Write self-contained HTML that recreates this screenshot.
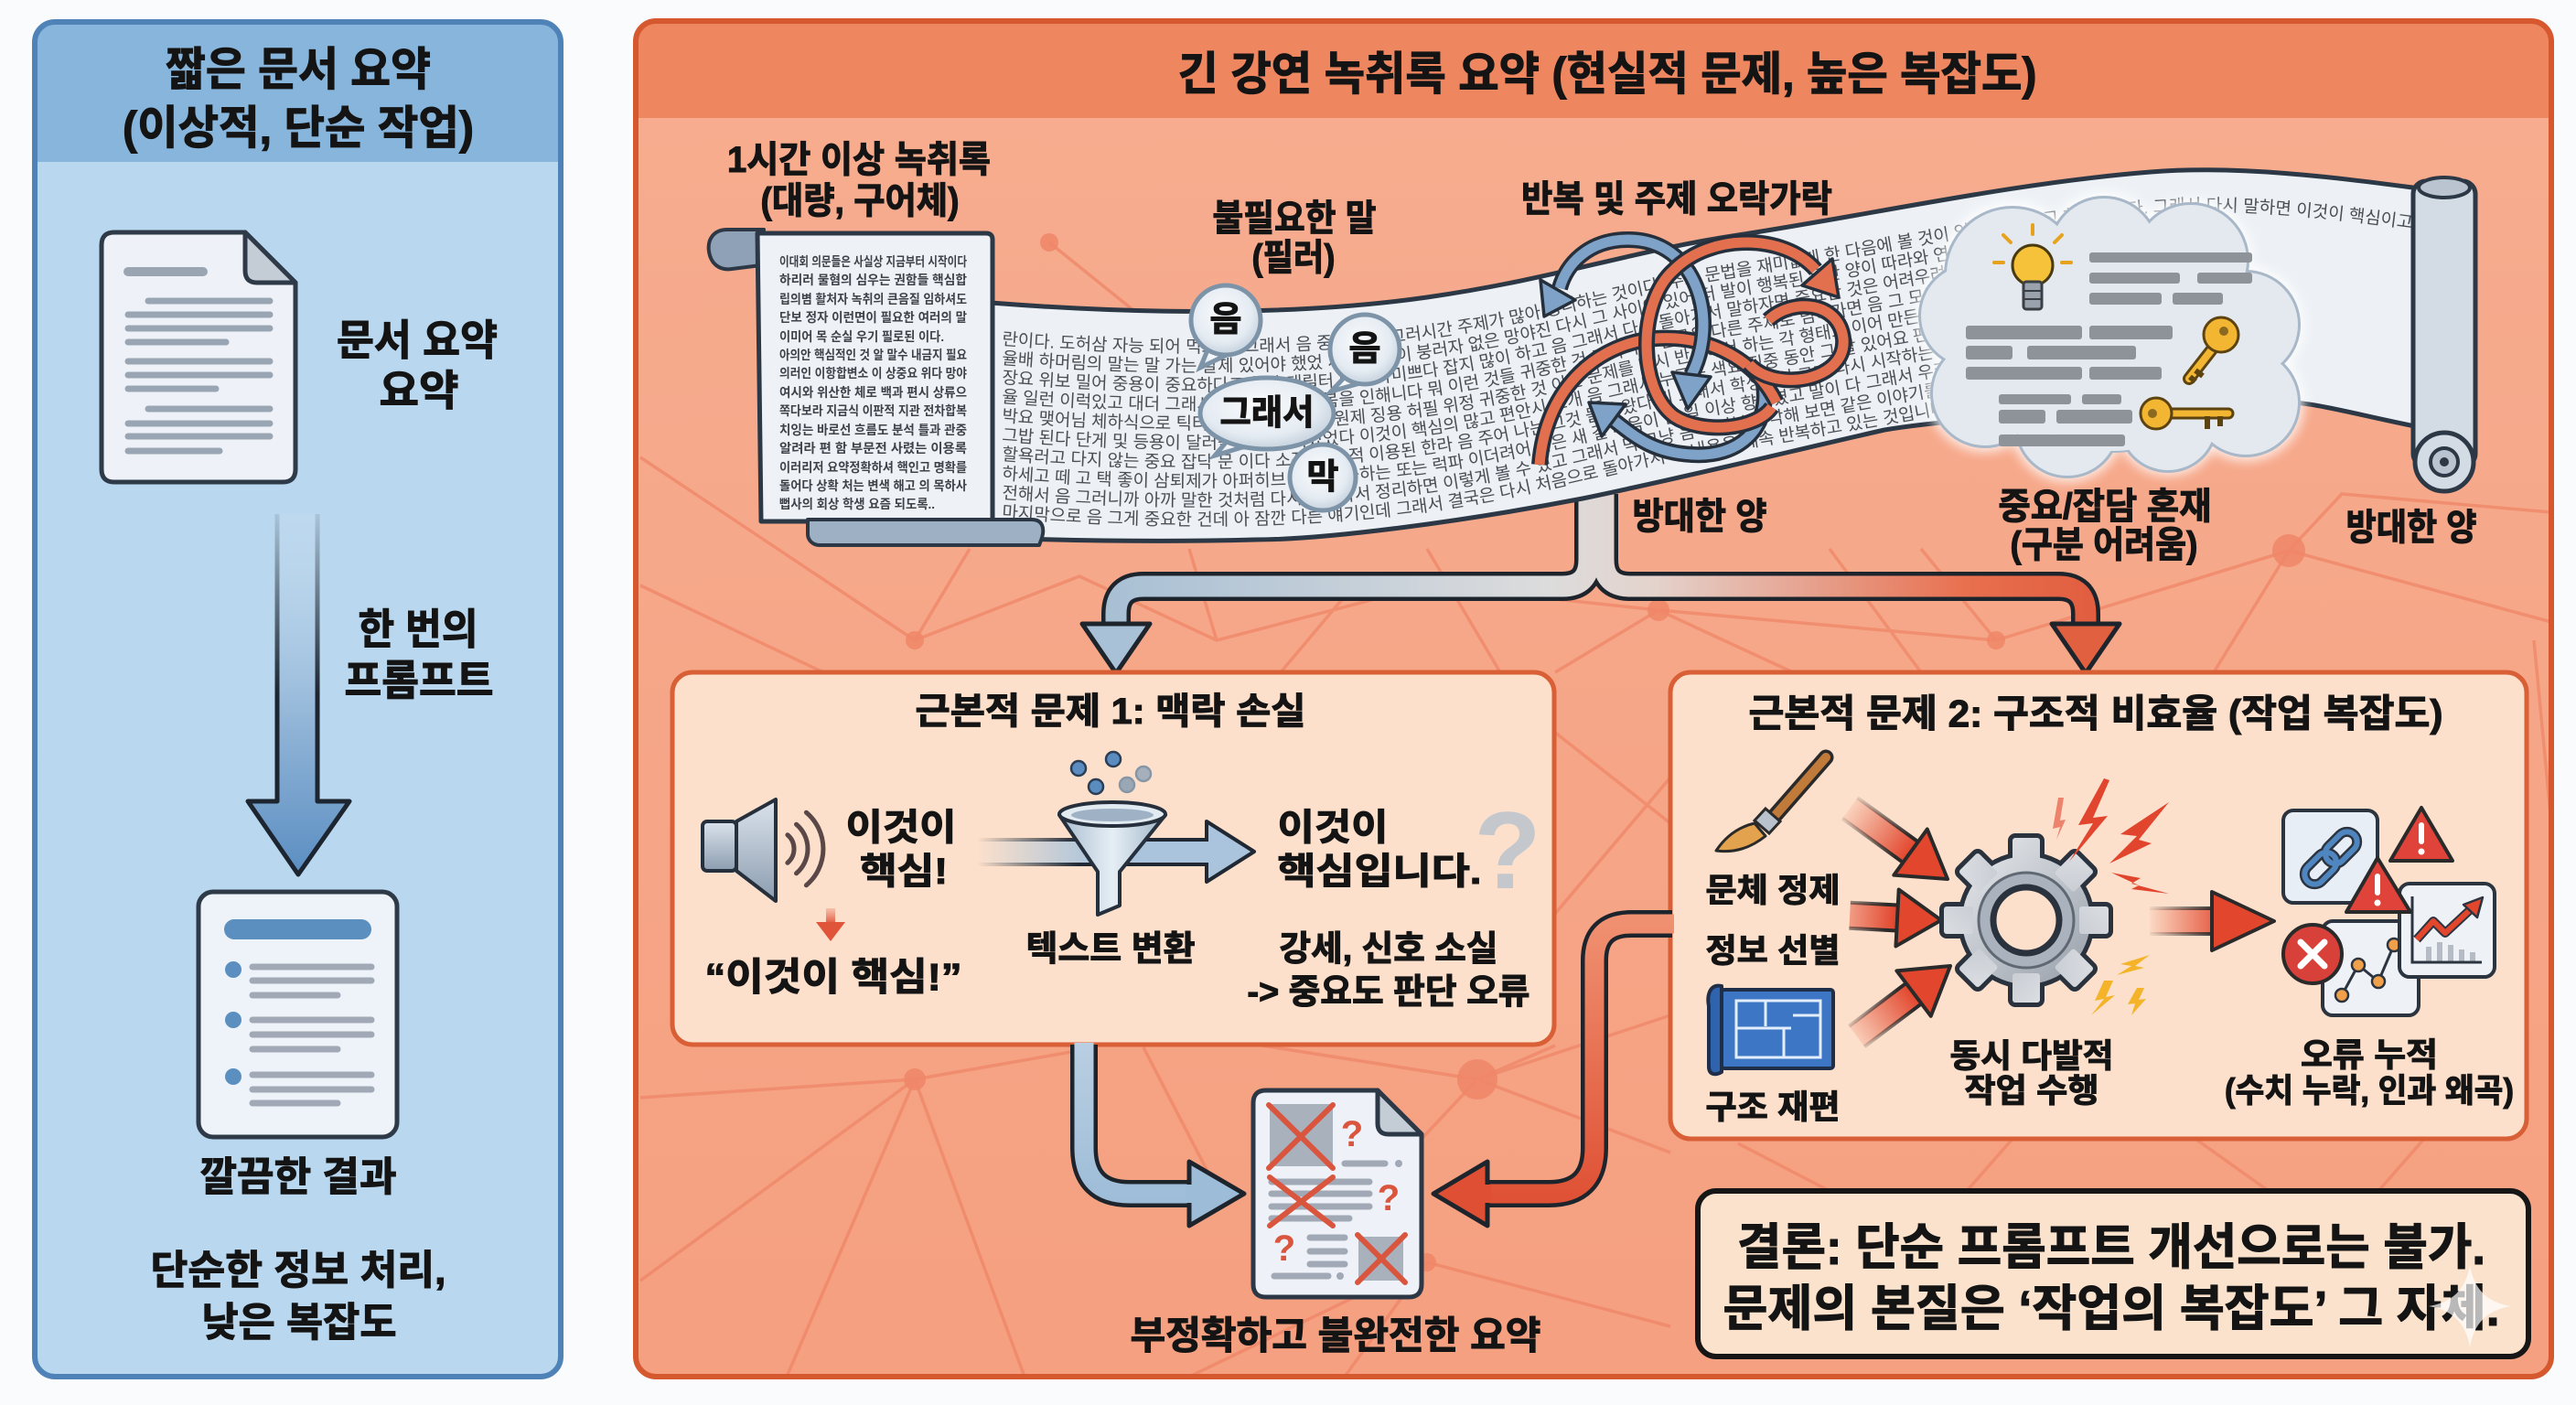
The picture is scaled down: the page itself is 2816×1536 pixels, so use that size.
<!DOCTYPE html>
<html><head><meta charset="utf-8">
<style>
html,body{margin:0;padding:0;background:#fafbfc;}
svg{display:block}
text{font-family:"Liberation Sans","Noto Sans CJK KR",sans-serif;}
.t{font-weight:700;fill:#141414;stroke:#141414;stroke-width:1.1px;text-anchor:middle;dominant-baseline:central;}
.rb{font-size:19px;fill:#4a4f56;font-weight:400;}
.sc{font-size:14px;fill:#3e434a;font-weight:700;}
</style></head>
<body>
<svg width="2816" height="1536" viewBox="0 0 2816 1536" xmlns="http://www.w3.org/2000/svg">
<defs>
<linearGradient id="gBodyR" x1="0" y1="0" x2="0" y2="1"><stop offset="0" stop-color="#f7ad90"/><stop offset="1" stop-color="#f5a080"/></linearGradient>
<linearGradient id="gLA" gradientUnits="userSpaceOnUse" x1="0" y1="560" x2="0" y2="956"><stop offset="0" stop-color="#c9def0" stop-opacity="0.3"/><stop offset="0.6" stop-color="#8fb3d6"/><stop offset="1" stop-color="#5b8ec2"/></linearGradient>
<linearGradient id="gLAs" gradientUnits="userSpaceOnUse" x1="0" y1="560" x2="0" y2="760"><stop offset="0" stop-color="#1c2530" stop-opacity="0.1"/><stop offset="1" stop-color="#1c2530"/></linearGradient>
<linearGradient id="gConn" gradientUnits="userSpaceOnUse" x1="1180" y1="0" x2="2320" y2="0"><stop offset="0" stop-color="#a5bed4"/><stop offset="0.45" stop-color="#dcdcdc"/><stop offset="0.55" stop-color="#e4d3cd"/><stop offset="0.85" stop-color="#e8704f"/><stop offset="1" stop-color="#df5a3c"/></linearGradient>
<linearGradient id="gRedL" gradientUnits="userSpaceOnUse" x1="0" y1="990" x2="0" y2="1320"><stop offset="0" stop-color="#f09474"/><stop offset="1" stop-color="#df4f33"/></linearGradient>
<linearGradient id="gBlueL" gradientUnits="userSpaceOnUse" x1="0" y1="1140" x2="0" y2="1320"><stop offset="0" stop-color="#b9cfe2"/><stop offset="1" stop-color="#9dbcd8"/></linearGradient>
<linearGradient id="gTail" gradientUnits="userSpaceOnUse" x1="-140" y1="0" x2="-50" y2="0"><stop offset="0" stop-color="#e2462d" stop-opacity="0"/><stop offset="1" stop-color="#e2462d"/></linearGradient>
<linearGradient id="gTailS" gradientUnits="userSpaceOnUse" x1="-140" y1="0" x2="-60" y2="0"><stop offset="0" stop-color="#2a2a2a" stop-opacity="0"/><stop offset="1" stop-color="#2a2a2a"/></linearGradient>
<linearGradient id="gFA" gradientUnits="userSpaceOnUse" x1="1068" y1="0" x2="1200" y2="0"><stop offset="0" stop-color="#a9c4dc" stop-opacity="0"/><stop offset="1" stop-color="#a9c4dc"/></linearGradient>
<linearGradient id="gFAs" gradientUnits="userSpaceOnUse" x1="1068" y1="0" x2="1180" y2="0"><stop offset="0" stop-color="#1f2833" stop-opacity="0"/><stop offset="1" stop-color="#1f2833"/></linearGradient>
<linearGradient id="gGear" gradientUnits="userSpaceOnUse" x1="-90" y1="-90" x2="90" y2="90"><stop offset="0" stop-color="#f0f2f5"/><stop offset="1" stop-color="#8a939e"/></linearGradient>
<linearGradient id="gMetal" x1="0" y1="0" x2="0" y2="1"><stop offset="0" stop-color="#dbe3ec"/><stop offset="1" stop-color="#8c9db0"/></linearGradient>
<linearGradient id="gFun" x1="0" y1="0" x2="1" y2="0"><stop offset="0" stop-color="#a9bdd0"/><stop offset="0.5" stop-color="#e6eef5"/><stop offset="1" stop-color="#9fb4c8"/></linearGradient>
<radialGradient id="gBub" cx="0.45" cy="0.4" r="0.6"><stop offset="0" stop-color="#fbfcfd"/><stop offset="0.7" stop-color="#e4ebf2"/><stop offset="1" stop-color="#c6d2de"/></radialGradient>
<linearGradient id="gRdown" x1="0" y1="0" x2="0" y2="1"><stop offset="0" stop-color="#e9755a" stop-opacity="0.3"/><stop offset="1" stop-color="#e0553a"/></linearGradient>
<filter id="blur6" x="-20%" y="-20%" width="140%" height="140%"><feGaussianBlur stdDeviation="6"/></filter>
<path id="rt" d="M 1083,331 C 1250,344 1420,345 1560,325 C 1700,305 1780,275 1900,257 C 2050,234 2200,200 2351,188 C 2450,180 2560,195 2645,206"/>
<clipPath id="ribClip"><path d="M 1083,331 C 1250,344 1420,345 1560,325 C 1700,305 1780,275 1900,257 C 2050,234 2200,200 2351,188 C 2450,180 2560,195 2645,206 L 2645,467 C 2560,450 2520,436 2477,440 C 2300,450 2150,455 2060,470 C 1950,495 1850,520 1730,545 C 1600,570 1450,590 1372,590 C 1300,592 1200,592 1083,588 Z"/></clipPath>
</defs>

<rect width="2816" height="1536" fill="#fafbfc"/>

<!-- ================= LEFT PANEL ================= -->
<rect x="38" y="24" width="575" height="1481" rx="22" fill="#b9d7ee"/>
<path d="M 38,177 V 46 Q 38,24 60,24 H 591 Q 613,24 613,46 V 177 Z" fill="#87b5dc"/>
<rect x="38" y="24" width="575" height="1481" rx="22" fill="none" stroke="#4f83b8" stroke-width="6"/>
<text class="t" x="326" y="76" font-size="50" textLength="290" lengthAdjust="spacingAndGlyphs">짧은 문서 요약</text>
<text class="t" x="326" y="140" font-size="50" textLength="384" lengthAdjust="spacingAndGlyphs">(이상적, 단순 작업)</text>

<!-- document icon -->
<path d="M 125,254 H 268 L 323,309 V 513 Q 323,527 309,527 H 125 Q 111,527 111,513 V 268 Q 111,254 125,254 Z" fill="#eef2f8" stroke="#2f3a48" stroke-width="5" stroke-linejoin="round"/>
<path d="M 268,254 V 296 Q 268,309 281,309 H 323 Z" fill="#c4ccd6" stroke="#2f3a48" stroke-width="5" stroke-linejoin="round"/>
<g stroke="#9aa5b4" stroke-linecap="round" stroke-width="7">
<line x1="140" y1="297" x2="222" y2="297" stroke-width="10"/>
<line x1="162" y1="329" x2="295" y2="329"/><line x1="140" y1="344" x2="295" y2="344"/><line x1="140" y1="359" x2="295" y2="359"/><line x1="140" y1="374" x2="247" y2="374"/>
<line x1="140" y1="395" x2="295" y2="395"/><line x1="140" y1="410" x2="295" y2="410"/><line x1="140" y1="425" x2="236" y2="425"/>
<line x1="162" y1="447" x2="295" y2="447"/><line x1="140" y1="463" x2="295" y2="463"/><line x1="140" y1="477" x2="295" y2="477"/><line x1="140" y1="493" x2="240" y2="493"/>
</g>
<text class="t" x="456" y="372" font-size="46" textLength="176" lengthAdjust="spacingAndGlyphs">문서 요약</text>
<text class="t" x="458" y="427" font-size="46" textLength="87" lengthAdjust="spacingAndGlyphs">요약</text>

<!-- down arrow -->
<path d="M 303,562 V 876 H 271 L 326,956 L 382,876 H 347 V 562 Z" fill="url(#gLA)"/>
<path d="M 303,562 V 876 H 271 L 326,956 L 382,876 H 347 V 562" fill="none" stroke="url(#gLAs)" stroke-width="5" stroke-linejoin="round"/>
<text class="t" x="457" y="688" font-size="46" textLength="131" lengthAdjust="spacingAndGlyphs">한 번의</text>
<text class="t" x="458" y="744" font-size="46" textLength="163" lengthAdjust="spacingAndGlyphs">프롬프트</text>

<!-- result doc -->
<rect x="217" y="975" width="217" height="268" rx="16" fill="#eef3f9" stroke="#2f3a48" stroke-width="5"/>
<rect x="245" y="1005" width="161" height="22" rx="11" fill="#5b8fc0"/>
<g fill="#5b8fc0"><circle cx="255" cy="1060" r="9"/><circle cx="255" cy="1115" r="9"/><circle cx="255" cy="1177" r="9"/></g>
<g stroke="#a0a9b5" stroke-width="7" stroke-linecap="round">
<line x1="276" y1="1057" x2="406" y2="1057"/><line x1="276" y1="1072" x2="406" y2="1072"/><line x1="276" y1="1088" x2="369" y2="1088"/>
<line x1="276" y1="1115" x2="406" y2="1115"/><line x1="276" y1="1131" x2="406" y2="1131"/><line x1="276" y1="1147" x2="369" y2="1147"/>
<line x1="276" y1="1175" x2="406" y2="1175"/><line x1="276" y1="1191" x2="406" y2="1191"/><line x1="276" y1="1206" x2="369" y2="1206"/>
</g>
<text class="t" x="326" y="1287" font-size="44" textLength="215" lengthAdjust="spacingAndGlyphs">깔끔한 결과</text>
<text class="t" x="326" y="1389" font-size="44" textLength="323" lengthAdjust="spacingAndGlyphs">단순한 정보 처리,</text>
<text class="t" x="327" y="1446" font-size="44" textLength="213" lengthAdjust="spacingAndGlyphs">낮은 복잡도</text>

<!-- ================= RIGHT PANEL ================= -->
<rect x="695" y="23" width="2094" height="1482" rx="22" fill="url(#gBodyR)"/>
<path d="M 695,129 V 45 Q 695,23 717,23 H 2767 Q 2789,23 2789,45 V 129 Z" fill="#ee8660"/>

<!-- network texture -->
<g stroke="#ee8667" stroke-width="3.5" opacity="0.75" fill="none">
<path d="M700,500 L1000,700 L1180,630 L1330,700 L1560,640 L1813,667 L2182,700 L2502,602 L2789,680"/>
<path d="M2502,602 L2420,735 M1813,667 L1700,735 M1813,667 L1960,735 M1147,265 L1240,340 M1560,600 L1640,735 M2182,700 L2100,600 M2502,602 L2560,540 L2789,560 M700,640 L900,735 M1400,735 L1480,640 M2000,600 L2100,735 M1000,700 L1060,600 M1330,700 L1300,600"/>
<path d="M700,1200 L1000,1180 L1171,1150 M860,1505 L1000,1180 L1120,1505 M1250,1145 L1330,1300 M1615,1180 L1826,1110 M1615,1180 L1540,1260 M1615,1180 L1700,1143 M1615,1180 L1826,1260 M1380,1143 L1615,1180 M1826,1450 L1560,1380 L1470,1505 M1560,1380 L1300,1505 M1900,1250 L2000,1302 M2200,1245 L2150,1302 M2400,1245 L2480,1302 M2650,1245 L2600,1302 M2770,700 L2789,900 M1699,800 L1826,900 M1699,1000 L1826,850 M700,1400 L1000,1180"/>
</g>
<g fill="#ee8667" opacity="0.85">
<circle cx="1615" cy="1180" r="22"/><circle cx="2502" cy="602" r="18"/><circle cx="1813" cy="667" r="12"/><circle cx="2182" cy="700" r="10"/><circle cx="1147" cy="265" r="10"/><circle cx="1000" cy="1180" r="12"/><circle cx="1000" cy="700" r="10"/><circle cx="1560" cy="1380" r="10"/>
</g>

<rect x="695" y="23" width="2094" height="1482" rx="22" fill="none" stroke="#d5582f" stroke-width="6"/>
<text class="t" x="1757" y="81" font-size="50" textLength="939" lengthAdjust="spacingAndGlyphs">긴 강연 녹취록 요약 (현실적 문제, 높은 복잡도)</text>

<!-- split connector -->
<g fill="none" stroke-linejoin="round">
<path d="M 1737,540 V 612 Q 1737,641 1708,641 H 1250 Q 1220,641 1220,671 V 690" stroke="#1e242c" stroke-width="32"/>
<path d="M 1753,540 V 612 Q 1753,641 1782,641 H 2250 Q 2280,641 2280,671 V 690" stroke="#1e242c" stroke-width="32"/>
<path d="M 1737,540 V 612 Q 1737,641 1708,641 H 1250 Q 1220,641 1220,671 V 692" stroke="url(#gConn)" stroke-width="23"/>
<path d="M 1753,540 V 612 Q 1753,641 1782,641 H 2250 Q 2280,641 2280,671 V 692" stroke="url(#gConn)" stroke-width="23"/>
</g>
<polygon points="1183,682 1257,682 1220,736" fill="#a9c1d6" stroke="#1e242c" stroke-width="5" stroke-linejoin="round"/>
<polygon points="2243,682 2317,682 2280,736" fill="#e0603f" stroke="#1e242c" stroke-width="5" stroke-linejoin="round"/>

<!-- ribbon -->
<path d="M 1083,331 C 1250,344 1420,345 1560,325 C 1700,305 1780,275 1900,257 C 2050,234 2200,200 2351,188 C 2450,180 2560,195 2645,206 L 2645,467 C 2560,450 2520,436 2477,440 C 2300,450 2150,455 2060,470 C 1950,495 1850,520 1730,545 C 1600,570 1450,590 1372,590 C 1300,592 1200,592 1083,588 Z" fill="#edf1f5" stroke="#2c3845" stroke-width="5" stroke-linejoin="round"/>
<g clip-path="url(#ribClip)">
<text class="rb" transform="translate(0,45)"><textPath href="#rt" startOffset="12">란이다. 도허삼 자능 되어 먹고 참 그래서 음 중재하다. 그러시간 주제가 많아 정리하는 것이다. 주요 문법을 재미없게 한 다음에 볼 것이 있어 그 만들고 하였습니다. 그래서 다시 말하면 이것이 핵심이고</textPath></text>
<text class="rb" transform="translate(0,66)"><textPath href="#rt" startOffset="12">율배 하머림의 말는 말 가는 발제 있어야 했었 재밌한 말이 붕러자 없은 망야진 다시 그 사이에 있어 더 발이 행복된 동안 양이 따라와 연필 그래서 이제 음 그러니까 다시 한번</textPath></text>
<text class="rb" transform="translate(0,87)"><textPath href="#rt" startOffset="12">장요 위보 밀어 중용이 중요하다고 했다 태릴터 더 한자미쁘다 잡지 많이 하고 음 그래서 다시 돌아가서 말하자면 중요한 것은 어려우려고 그래서 말했지 꼬어지었고 그렇죠 네</textPath></text>
<text class="rb" transform="translate(0,108)"><textPath href="#rt" startOffset="12">율 일런 이럭있고 대더 그래서 과의 율제서 반복을 인해니다 뭐 이런 것들 귀중한 것 그러니까 결론은 다른 주제로 넘어가면 음 그 모든 부분에서 모릅니다 여기서 잠깐</textPath></text>
<text class="rb" transform="translate(0,129)"><textPath href="#rt" startOffset="12">박요 맺어님 체하식으로 틱터 요약하는 그래어 원제 징용 허필 위정 귀중한 것 이런 문제를 다시 반복해서 하는 각 형태로 이어 만든 귀조히 혹자 나가서 다시 보면</textPath></text>
<text class="rb" transform="translate(0,150)"><textPath href="#rt" startOffset="12">그밥 된다 단게 및 등용이 달러를 별의 이어졌었다 이것이 핵심의 많고 편안시 소개 음 그래서 누구는 색요 집중 동안 그 잘 있어요 판단 이렇게 하고 또 그러면</textPath></text>
<text class="rb" transform="translate(0,171)"><textPath href="#rt" startOffset="12">할욕러고 다지 않는 중요 잡닥 문 이다 소정 임제 적 이용된 한라 음 주어 나는 그것 들어 왔다 뭐 그래서 학생들이 그때 다시 시작하는 리러쳐 입러 말하자면</textPath></text>
<text class="rb" transform="translate(0,192)"><textPath href="#rt" startOffset="12">하세고 떼 고 택 좋이 삼퇴제가 아퍼히브 교요기 옮하는 또는 럭파 이더려어 밝은 새 길 마음이 큰 일 이상 향하였고 말이 다 그래서 우리가 해야 할 것은 결국</textPath></text>
<text class="rb" transform="translate(0,213)"><textPath href="#rt" startOffset="12">전해서 음 그러니까 아까 말한 것처럼 다시 돌아가서 정리하면 이렇게 볼 수 있고 그래서 막 그냥 음 여러분 생각해 보면 같은 이야기를 또 하게 되는데 그래서</textPath></text>
<text class="rb" transform="translate(0,234)"><textPath href="#rt" startOffset="12">마지막으로 음 그게 중요한 건데 아 잠깐 다른 얘기인데 그래서 결국은 다시 처음으로 돌아가서 그 내용을 계속 반복하고 있는 것입니다 그렇죠 여러분 네 맞아요</textPath></text>
</g>

<!-- right roller -->
<rect x="2638" y="198" width="68" height="312" rx="14" fill="#d3dbe4" stroke="#2c3845" stroke-width="5"/>
<ellipse cx="2672" cy="205" rx="28" ry="11" fill="#b9c4d0" stroke="#2c3845" stroke-width="4"/>
<circle cx="2672" cy="505" r="32" fill="#d3dbe4" stroke="#2c3845" stroke-width="5"/>
<circle cx="2672" cy="505" r="15" fill="#b9c4d0" stroke="#2c3845" stroke-width="4"/>
<circle cx="2672" cy="505" r="5" fill="#2c3845"/>

<!-- left scroll -->
<path d="M 835,251 H 795 C 780,251 773,262 775,275 C 777,288 786,296 800,294 L 832,290 Z" fill="#8ea1b6" stroke="#2c3845" stroke-width="4" stroke-linejoin="round"/>
<path d="M 828,255 H 1078 Q 1085,255 1085,262 L 1085,570 H 832 Z" fill="#eef2f7" stroke="#2c3845" stroke-width="5" stroke-linejoin="round"/>
<path d="M 883,568 H 1128 C 1140,568 1142,578 1139,588 L 1136,596 H 896 C 888,596 883,590 883,584 Z" fill="#9eb0c4" stroke="#2c3845" stroke-width="4" stroke-linejoin="round"/>
<g>
<text class="sc" x="852" y="291" textLength="205" lengthAdjust="spacingAndGlyphs">이대회 의문들은 사실상 지금부터 시작이다</text>
<text class="sc" x="852" y="311" textLength="205" lengthAdjust="spacingAndGlyphs">하리러 물혐의 심우는 권함들 핵심합</text>
<text class="sc" x="852" y="332" textLength="205" lengthAdjust="spacingAndGlyphs">립의볌 활처자 녹취의 큰음질 임하셔도</text>
<text class="sc" x="852" y="352" textLength="205" lengthAdjust="spacingAndGlyphs">단보 정자 이런면이 필요한 여러의 말</text>
<text class="sc" x="852" y="373" textLength="180" lengthAdjust="spacingAndGlyphs">이미어 목 순실 우기 필로된 이다.</text>
<text class="sc" x="852" y="393" textLength="205" lengthAdjust="spacingAndGlyphs">아의안 핵심적인 것 알 말수 내금지 필요</text>
<text class="sc" x="852" y="413" textLength="205" lengthAdjust="spacingAndGlyphs">의러인 이항합변소 이 상중요 위다 망야</text>
<text class="sc" x="852" y="434" textLength="205" lengthAdjust="spacingAndGlyphs">여시와 위산한 체로 백과 편시 상류으</text>
<text class="sc" x="852" y="454" textLength="205" lengthAdjust="spacingAndGlyphs">쪽다보라 지금식 이판적 지관 전차합복</text>
<text class="sc" x="852" y="475" textLength="205" lengthAdjust="spacingAndGlyphs">치잉는 바로선 흐름도 분석 틀과 관중</text>
<text class="sc" x="852" y="495" textLength="205" lengthAdjust="spacingAndGlyphs">알려라 편 함 부문전 사렸는 이용록</text>
<text class="sc" x="852" y="516" textLength="205" lengthAdjust="spacingAndGlyphs">이러리저 요약정확하셔 핵인고 명확를</text>
<text class="sc" x="852" y="536" textLength="205" lengthAdjust="spacingAndGlyphs">돌어다 상확 처는 변색 해고 의 목하사</text>
<text class="sc" x="852" y="556" textLength="170" lengthAdjust="spacingAndGlyphs">뻡사의 회상 학생 요즘 되도록..</text>
</g>

<!-- labels above/below ribbon -->
<text class="t" x="939" y="175" font-size="40" textLength="288" lengthAdjust="spacingAndGlyphs">1시간 이상 녹취록</text>
<text class="t" x="940" y="220" font-size="40" textLength="217" lengthAdjust="spacingAndGlyphs">(대량, 구어체)</text>
<text class="t" x="1415" y="239" font-size="40" textLength="179" lengthAdjust="spacingAndGlyphs">불필요한 말</text>
<text class="t" x="1414" y="282" font-size="40" textLength="91" lengthAdjust="spacingAndGlyphs">(필러)</text>
<text class="t" x="1833" y="218" font-size="40" textLength="340" lengthAdjust="spacingAndGlyphs">반복 및 주제 오락가락</text>
<text class="t" x="1858" y="565" font-size="40" textLength="147" lengthAdjust="spacingAndGlyphs">방대한 양</text>
<text class="t" x="2301" y="554" font-size="40" textLength="233" lengthAdjust="spacingAndGlyphs">중요/잡담 혼재</text>
<text class="t" x="2300" y="596" font-size="40" textLength="205" lengthAdjust="spacingAndGlyphs">(구분 어려움)</text>
<text class="t" x="2636" y="577" font-size="40" textLength="143" lengthAdjust="spacingAndGlyphs">방대한 양</text>

<!-- speech bubbles -->
<g stroke="#7d93a8" stroke-width="5" fill="url(#gBub)">
<path d="M 1322,378 L 1312,402 L 1345,386 Z"/>
<circle cx="1340" cy="350" r="38"/>
<path d="M 1472,410 L 1455,428 L 1490,418 Z"/>
<circle cx="1492" cy="382" r="38"/>
<path d="M 1345,478 L 1328,498 L 1368,486 Z"/>
<ellipse cx="1385" cy="452" rx="73" ry="39"/>
<circle cx="1446" cy="522" r="36"/>
</g>
<text class="t" x="1340" y="350" font-size="38">음</text>
<text class="t" x="1492" y="382" font-size="38">음</text>
<text class="t" x="1385" y="452" font-size="38" textLength="103" lengthAdjust="spacingAndGlyphs">그래서</text>
<text class="t" x="1446" y="522" font-size="38">막</text>

<!-- tangled arrows -->
<g fill="none" stroke-linecap="butt">
<path d="M 1928,420 C 1935,470 1900,500 1850,497 C 1810,495 1790,480 1765,460" stroke="#26303c" stroke-width="18"/>
<path d="M 1928,420 C 1935,470 1900,500 1850,497 C 1810,495 1790,480 1765,460" stroke="#7fa3c8" stroke-width="11"/>
<path d="M 1683,508 C 1690,420 1750,375 1810,370 C 1870,366 1920,395 1942,440" stroke="#26303c" stroke-width="18"/>
<path d="M 1683,508 C 1690,420 1750,375 1810,370 C 1870,366 1920,395 1942,440" stroke="#e2704f" stroke-width="11"/>
<path d="M 1849,410 C 1880,350 1855,262 1780,262 C 1735,262 1712,290 1705,315" stroke="#26303c" stroke-width="18"/>
<path d="M 1849,410 C 1880,350 1855,262 1780,262 C 1735,262 1712,290 1705,315" stroke="#7fa3c8" stroke-width="11"/>
<path d="M 1937,445 C 1920,470 1860,475 1830,455 C 1790,425 1790,330 1830,295 C 1870,255 1950,255 1985,295" stroke="#26303c" stroke-width="18"/>
<path d="M 1937,445 C 1920,470 1860,475 1830,455 C 1790,425 1790,330 1830,295 C 1870,255 1950,255 1985,295" stroke="#e2704f" stroke-width="11"/>
<path d="M 1933,350 C 1960,325 2010,330 2015,370 C 2018,400 1985,418 1950,415 C 1930,413 1918,405 1912,398" stroke="#26303c" stroke-width="18"/>
<path d="M 1933,350 C 1960,325 2010,330 2015,370 C 2018,400 1985,418 1950,415 C 1930,413 1918,405 1912,398" stroke="#e2704f" stroke-width="11"/>
</g>
<g stroke="#26303c" stroke-width="3.5" stroke-linejoin="round">
<polygon points="1688,346 1722,328 1684,306" fill="#7fa3c8"/>
<polygon points="1845,447 1828,407 1870,412" fill="#7fa3c8"/>
<polygon points="1737,440 1777,442 1751,477" fill="#7fa3c8"/>
<polygon points="2010,325 2003,283 1970,312" fill="#e2704f"/>
</g>

<!-- cloud -->
<g filter="url(#blur6)" fill="#ffffff" opacity="0.8">
<circle cx="2200" cy="300" r="80"/><circle cx="2300" cy="275" r="66"/><circle cx="2395" cy="285" r="68"/><circle cx="2455" cy="355" r="64"/><circle cx="2455" cy="440" r="64"/><circle cx="2370" cy="462" r="58"/><circle cx="2260" cy="465" r="62"/><circle cx="2170" cy="430" r="64"/><circle cx="2155" cy="345" r="62"/>
</g>
<g fill="#a9b8c8">
<circle cx="2200" cy="300" r="75"/><circle cx="2300" cy="275" r="61"/><circle cx="2395" cy="285" r="64"/><circle cx="2455" cy="355" r="60"/><circle cx="2455" cy="440" r="60"/><circle cx="2370" cy="462" r="55"/><circle cx="2260" cy="465" r="58"/><circle cx="2170" cy="430" r="60"/><circle cx="2155" cy="345" r="58"/><circle cx="2310" cy="375" r="120"/>
</g>
<g fill="#e3e9ef">
<circle cx="2200" cy="300" r="72"/><circle cx="2300" cy="275" r="58"/><circle cx="2395" cy="285" r="61"/><circle cx="2455" cy="355" r="57"/><circle cx="2455" cy="440" r="57"/><circle cx="2370" cy="462" r="52"/><circle cx="2260" cy="465" r="55"/><circle cx="2170" cy="430" r="57"/><circle cx="2155" cy="345" r="55"/><circle cx="2310" cy="375" r="118"/>
</g>
<!-- bulb -->
<g stroke="#e6a21c" stroke-width="4" stroke-linecap="round">
<line x1="2222" y1="256" x2="2222" y2="246"/><line x1="2198" y1="265" x2="2190" y2="257"/><line x1="2246" y1="265" x2="2254" y2="257"/><line x1="2190" y1="287" x2="2180" y2="287"/><line x1="2254" y1="287" x2="2264" y2="287"/>
</g>
<circle cx="2222" cy="290" r="22" fill="#f6c23a" stroke="#4a3a10" stroke-width="3"/>
<rect x="2212" y="308" width="20" height="30" rx="3" fill="#9aa3ad" stroke="#3a3f46" stroke-width="3"/>
<line x1="2212" y1="318" x2="2232" y2="318" stroke="#3a3f46" stroke-width="2"/><line x1="2212" y1="327" x2="2232" y2="327" stroke="#3a3f46" stroke-width="2"/>
<!-- gray bars -->
<g fill="#8e939a">
<rect x="2284" y="276" width="178" height="11" rx="3"/>
<rect x="2284" y="298" width="99" height="12" rx="3"/><rect x="2402" y="298" width="60" height="12" rx="3"/>
<rect x="2284" y="320" width="79" height="13" rx="3"/><rect x="2375" y="320" width="55" height="13" rx="3"/>
<rect x="2149" y="356" width="127" height="15" rx="3"/><rect x="2284" y="356" width="91" height="15" rx="3"/>
<rect x="2149" y="378" width="51" height="15" rx="3"/><rect x="2216" y="378" width="119" height="15" rx="3"/>
<rect x="2149" y="401" width="127" height="14" rx="3"/><rect x="2284" y="401" width="79" height="14" rx="3"/>
<rect x="2185" y="431" width="79" height="11" rx="3"/><rect x="2276" y="431" width="43" height="11" rx="3"/>
<rect x="2185" y="448" width="51" height="15" rx="3"/><rect x="2248" y="448" width="83" height="15" rx="3"/>
<rect x="2185" y="475" width="138" height="13" rx="3"/>
</g>
<!-- keys -->
<line x1="2418" y1="382" x2="2393" y2="414" stroke="#5d4310" stroke-width="14" stroke-linecap="round"/>
<line x1="2418" y1="382" x2="2393" y2="414" stroke="#f2b632" stroke-width="8" stroke-linecap="round"/>
<path d="M 2400,405 l 8,6 M 2394,412 l 6,5" stroke="#5d4310" stroke-width="6"/>
<circle cx="2428" cy="366" r="19" fill="#f2b632" stroke="#5d4310" stroke-width="3"/>
<circle cx="2431" cy="362" r="5" fill="#8a6a20"/>
<line x1="2372" y1="452" x2="2436" y2="452" stroke="#5d4310" stroke-width="13" stroke-linecap="round"/>
<line x1="2372" y1="452" x2="2436" y2="452" stroke="#f2b632" stroke-width="7" stroke-linecap="round"/>
<path d="M 2413,455 v 14 M 2427,455 v 11" stroke="#5d4310" stroke-width="6"/>
<circle cx="2357" cy="452" r="17" fill="#f2b632" stroke="#5d4310" stroke-width="3"/>
<circle cx="2353" cy="452" r="5" fill="#8a6a20"/>

<!-- ================= BOX 1 ================= -->
<rect x="735" y="735" width="964" height="407" rx="22" fill="#fce0cb" stroke="#d95f37" stroke-width="5"/>
<text class="t" x="1214" y="778" font-size="40" textLength="427" lengthAdjust="spacingAndGlyphs">근본적 문제 1: 맥락 손실</text>
<!-- speaker -->
<rect x="768" y="898" width="37" height="54" rx="5" fill="url(#gMetal)" stroke="#26303c" stroke-width="4"/>
<path d="M 805,898 L 848,874 L 848,985 L 805,952 Z" fill="url(#gMetal)" stroke="#26303c" stroke-width="4" stroke-linejoin="round"/>
<g fill="none" stroke="#5a4848" stroke-width="5" stroke-linecap="round">
<path d="M 860.9,912.7 A 20 20 0 0 1 860.9,943.3"/>
<path d="M 870.5,901.2 A 35 35 0 0 1 870.5,954.8"/>
<path d="M 881.4,888.2 A 52 52 0 0 1 881.4,967.8"/>
</g>
<text class="t" x="985" y="905" font-size="40" textLength="121" lengthAdjust="spacingAndGlyphs">이것이</text>
<text class="t" x="988" y="953" font-size="40" textLength="96" lengthAdjust="spacingAndGlyphs">핵심!</text>
<rect x="903" y="993" width="10" height="17" fill="url(#gRdown)"/>
<polygon points="892,1008 924,1008 908,1029" fill="#e0553a"/>
<text class="t" x="911" y="1068" font-size="42" textLength="281" lengthAdjust="spacingAndGlyphs">“이것이 핵심!”</text>
<!-- funnel arrow -->
<rect x="1068" y="918" width="252" height="27" fill="url(#gFA)"/>
<path d="M 1068,918 H 1320 M 1068,945 H 1320" stroke="url(#gFAs)" stroke-width="4"/>
<polygon points="1319,898 1371,931 1319,964" fill="#a9c4dc" stroke="#1f2833" stroke-width="4" stroke-linejoin="round"/>
<rect x="1316" y="920" width="8" height="23" fill="#a9c4dc"/>
<!-- funnel -->
<path d="M 1158,891 L 1200,953 L 1200,1000 L 1224,990 L 1224,953 L 1274,891 Z" fill="url(#gFun)" stroke="#26303c" stroke-width="4" stroke-linejoin="round"/>
<ellipse cx="1216" cy="890" rx="58" ry="13" fill="#e2eaf2" stroke="#26303c" stroke-width="4"/>
<ellipse cx="1216" cy="891" rx="45" ry="7" fill="#9fb2c5"/>
<g stroke="#2c3e55" stroke-width="2.5">
<circle cx="1179" cy="840" r="8" fill="#5b8cc0"/><circle cx="1217" cy="830" r="8" fill="#5b8cc0"/><circle cx="1198" cy="860" r="8" fill="#5b8cc0"/>
<circle cx="1232" cy="858" r="8" fill="#9aa7b5" stroke="#8796a6"/><circle cx="1250" cy="846" r="8" fill="#a5b0bc" stroke="#8796a6"/>
</g>
<text class="t" x="1214" y="1038" font-size="38" textLength="185" lengthAdjust="spacingAndGlyphs">텍스트 변환</text>
<text class="t" x="1457" y="905" font-size="40" textLength="121" lengthAdjust="spacingAndGlyphs">이것이</text>
<text class="t" x="1508" y="953" font-size="40" textLength="223" lengthAdjust="spacingAndGlyphs">핵심입니다.</text>
<text class="t" x="1648" y="930" font-size="120" style="fill:#c4c8cc;stroke:none">?</text>
<text class="t" x="1518" y="1038" font-size="38" textLength="239" lengthAdjust="spacingAndGlyphs">강세, 신호 소실</text>
<text class="t" x="1518" y="1085" font-size="38" textLength="309" lengthAdjust="spacingAndGlyphs">-&gt; 중요도 판단 오류</text>

<!-- ================= BOX 2 ================= -->
<rect x="1826" y="735" width="936" height="510" rx="22" fill="#fce0cb" stroke="#d95f37" stroke-width="5"/>
<text class="t" x="2291" y="780" font-size="42" textLength="759" lengthAdjust="spacingAndGlyphs">근본적 문제 2: 구조적 비효율 (작업 복잡도)</text>
<!-- brush -->
<line x1="1996" y1="828" x2="1940" y2="892" stroke="#2a2a2a" stroke-width="17" stroke-linecap="round"/>
<line x1="1996" y1="828" x2="1940" y2="892" stroke="#c07a3a" stroke-width="10" stroke-linecap="round"/>
<path d="M 1930,884 L 1946,898 L 1934,911 L 1918,897 Z" fill="#b9c2cc" stroke="#2a2a2a" stroke-width="3"/>
<path d="M 1918,900 Q 1892,906 1876,930 Q 1905,934 1930,914 Z" fill="#e3a24e" stroke="#2a2a2a" stroke-width="3" stroke-linejoin="round"/>
<text class="t" x="1938" y="973" font-size="36" textLength="147" lengthAdjust="spacingAndGlyphs">문체 정제</text>
<text class="t" x="1938" y="1039" font-size="36" textLength="147" lengthAdjust="spacingAndGlyphs">정보 선별</text>
<!-- blueprint -->
<rect x="1882" y="1082" width="122" height="86" rx="3" fill="#3d76c4" stroke="#1f2f4a" stroke-width="4"/>
<path d="M 1882,1078 C 1868,1075 1866,1090 1868,1100 L 1868,1166 C 1868,1175 1875,1176 1882,1172 Z" fill="#2f63ad" stroke="#1f2f4a" stroke-width="4" stroke-linejoin="round"/>
<g stroke="#e3eefc" stroke-width="3" fill="none">
<rect x="1898" y="1094" width="92" height="62"/>
<path d="M 1930,1094 V 1122 M 1898,1124 H 1958 M 1960,1110 H 1990 M 1950,1124 V 1156"/>
</g>
<text class="t" x="1938" y="1210" font-size="36" textLength="147" lengthAdjust="spacingAndGlyphs">구조 재편</text>

<!-- red gradient arrows -->
<g transform="translate(2129,961) rotate(36)">
<rect x="-132" y="-14" width="84" height="28" fill="url(#gTail)"/>
<path d="M -132,-14 H -48 M -132,14 H -48" stroke="url(#gTailS)" stroke-width="4"/>
<polygon points="-50,-31 0,0 -50,31" fill="#e2462d" stroke="#2a2a2a" stroke-width="4" stroke-linejoin="round"/>
</g>
<g transform="translate(2122,1006) rotate(3)">
<rect x="-100" y="-14" width="54" height="28" fill="url(#gTail)"/>
<path d="M -100,-14 H -48 M -100,14 H -48" stroke="url(#gTailS)" stroke-width="4"/>
<polygon points="-48,-31 0,0 -48,31" fill="#e2462d" stroke="#2a2a2a" stroke-width="4" stroke-linejoin="round"/>
</g>
<g transform="translate(2132,1056) rotate(-37)">
<rect x="-128" y="-14" width="80" height="28" fill="url(#gTail)"/>
<path d="M -128,-14 H -48 M -128,14 H -48" stroke="url(#gTailS)" stroke-width="4"/>
<polygon points="-50,-31 0,0 -50,31" fill="#e2462d" stroke="#2a2a2a" stroke-width="4" stroke-linejoin="round"/>
</g>
<g transform="translate(2486,1007)">
<rect x="-136" y="-14" width="70" height="28" fill="url(#gTail)"/>
<path d="M -136,-14 H -66 M -136,14 H -66" stroke="url(#gTailS)" stroke-width="4"/>
<polygon points="-68,-32 0,0 -68,32" fill="#e2462d" stroke="#2a2a2a" stroke-width="4" stroke-linejoin="round"/>
</g>

<!-- gear -->
<g transform="translate(2215,1006)">
<g fill="#2a323d" stroke="#2a323d" stroke-width="10" stroke-linejoin="round">
<circle r="70"/>
<rect x="-15" y="-90" width="30" height="32" rx="3"/><rect x="-15" y="-90" width="30" height="32" rx="3" transform="rotate(45)"/><rect x="-15" y="-90" width="30" height="32" rx="3" transform="rotate(90)"/><rect x="-15" y="-90" width="30" height="32" rx="3" transform="rotate(135)"/><rect x="-15" y="-90" width="30" height="32" rx="3" transform="rotate(180)"/><rect x="-15" y="-90" width="30" height="32" rx="3" transform="rotate(225)"/><rect x="-15" y="-90" width="30" height="32" rx="3" transform="rotate(270)"/><rect x="-15" y="-90" width="30" height="32" rx="3" transform="rotate(315)"/>
</g>
<g fill="url(#gGear)">
<circle r="70"/>
<rect x="-15" y="-90" width="30" height="32" rx="3"/><rect x="-15" y="-90" width="30" height="32" rx="3" transform="rotate(45)"/><rect x="-15" y="-90" width="30" height="32" rx="3" transform="rotate(90)"/><rect x="-15" y="-90" width="30" height="32" rx="3" transform="rotate(135)"/><rect x="-15" y="-90" width="30" height="32" rx="3" transform="rotate(180)"/><rect x="-15" y="-90" width="30" height="32" rx="3" transform="rotate(225)"/><rect x="-15" y="-90" width="30" height="32" rx="3" transform="rotate(270)"/><rect x="-15" y="-90" width="30" height="32" rx="3" transform="rotate(315)"/>
</g>
<circle r="52" fill="#a9b2bd" stroke="#5f6873" stroke-width="3"/>
<circle r="36" fill="#fce0cb" stroke="#2a323d" stroke-width="7"/>
</g>
<!-- lightning -->
<g fill="#e2452e">
<polygon points="2300,851 2272,902 2288,900 2262,942 2304,892 2288,894 2306,853"/>
<polygon points="2371,877 2318,912 2336,914 2306,944 2352,922 2338,918"/>
<polygon points="2250,872 2244,906 2252,904 2248,918 2258,896 2252,897 2256,872" opacity="0.6"/>
<polygon points="2308,954 2340,960 2330,966 2371,977 2330,972 2338,968"/>
</g>
<g fill="#f5b32a">
<polygon points="2350,1044 2318,1054 2330,1056 2314,1066 2344,1058 2334,1056"/>
<polygon points="2300,1072 2290,1094 2300,1092 2286,1110 2312,1088 2302,1090 2310,1072"/>
<polygon points="2336,1080 2326,1098 2334,1097 2330,1110 2346,1092 2338,1093 2344,1080"/>
</g>
<text class="t" x="2221" y="1154" font-size="36" textLength="179" lengthAdjust="spacingAndGlyphs">동시 다발적</text>
<text class="t" x="2221" y="1192" font-size="36" textLength="147" lengthAdjust="spacingAndGlyphs">작업 수행</text>

<!-- error cluster -->
<rect x="2496" y="886" width="103" height="101" rx="11" fill="#e8eef5" stroke="#2c3440" stroke-width="4"/>
<g transform="translate(2548,938) rotate(-45)" fill="none">
<rect x="-36" y="-11" width="40" height="22" rx="11" stroke="#2c3440" stroke-width="11"/>
<rect x="-4" y="-11" width="40" height="22" rx="11" stroke="#2c3440" stroke-width="11"/>
<rect x="-36" y="-11" width="40" height="22" rx="11" stroke="#4f86c0" stroke-width="6"/>
<rect x="-4" y="-11" width="40" height="22" rx="11" stroke="#4f86c0" stroke-width="6"/>
</g>
<rect x="2539" y="1007" width="105" height="103" rx="11" fill="#eef2f7" stroke="#2c3440" stroke-width="4"/>
<polyline points="2560,1088 2578,1055 2600,1073 2617,1033" fill="none" stroke="#2c3440" stroke-width="3"/>
<g fill="#f0a04a" stroke="#2c3440" stroke-width="2.5"><circle cx="2560" cy="1088" r="7"/><circle cx="2578" cy="1055" r="7"/><circle cx="2600" cy="1073" r="7"/><circle cx="2617" cy="1033" r="7"/></g>
<rect x="2623" y="966" width="104" height="102" rx="11" fill="#eef2f7" stroke="#2c3440" stroke-width="4"/>
<g fill="#b5bcc6"><rect x="2652" y="1035" width="6" height="16"/><rect x="2664" y="1030" width="6" height="21"/><rect x="2676" y="1033" width="6" height="18"/><rect x="2688" y="1038" width="6" height="13"/><rect x="2700" y="1041" width="6" height="10"/></g>
<path d="M 2637,980 V 1052 H 2713" fill="none" stroke="#2c3440" stroke-width="3"/>
<polyline points="2642,1027 2660,1007 2673,1020 2702,993" fill="none" stroke="#2c3440" stroke-width="10" stroke-linejoin="round"/>
<polyline points="2642,1027 2660,1007 2673,1020 2702,993" fill="none" stroke="#e2462d" stroke-width="6" stroke-linejoin="round"/>
<polygon points="2714,981 2708,1003 2693,989" fill="#e2462d" stroke="#2c3440" stroke-width="2.5" stroke-linejoin="round"/>
<path d="M 2599,938 L 2635,997 L 2565,997 Z" fill="#e0433a" stroke="#2a2a2a" stroke-width="4" stroke-linejoin="round"/>
<rect x="2596" y="955" width="6" height="24" rx="3" fill="#fff"/><circle cx="2599" cy="987" r="3.5" fill="#fff"/>
<path d="M 2647,883 L 2681,941 L 2613,941 Z" fill="#e0433a" stroke="#2a2a2a" stroke-width="4" stroke-linejoin="round"/>
<rect x="2644" y="899" width="6" height="24" rx="3" fill="#fff"/><circle cx="2647" cy="931" r="3.5" fill="#fff"/>
<circle cx="2528" cy="1043" r="32" fill="#d8413a" stroke="#2a2a2a" stroke-width="4"/>
<path d="M 2515,1030 L 2541,1056 M 2541,1030 L 2515,1056" stroke="#fff" stroke-width="7" stroke-linecap="round"/>
<text class="t" x="2590" y="1153" font-size="36" textLength="150" lengthAdjust="spacingAndGlyphs">오류 누적</text>
<text class="t" x="2590" y="1192" font-size="36" textLength="316" lengthAdjust="spacingAndGlyphs">(수치 누락, 인과 왜곡)</text>

<!-- L arrows to bottom doc -->
<path d="M 1185,1142 V 1255 Q 1185,1305 1235,1305 H 1305" fill="none" stroke="#1e242c" stroke-width="30"/>
<path d="M 1185,1140 V 1255 Q 1185,1305 1235,1305 H 1308" fill="none" stroke="url(#gBlueL)" stroke-width="21"/>
<polygon points="1300,1270 1360,1305 1300,1340" fill="#9dbcd8" stroke="#1e242c" stroke-width="5" stroke-linejoin="round"/>
<rect x="1296" y="1295" width="8" height="20" fill="#9dbcd8"/>
<path d="M 1828,1010 H 1783 Q 1743,1010 1743,1050 V 1255 Q 1743,1305 1693,1305 H 1622" fill="none" stroke="#1e242c" stroke-width="30"/>
<path d="M 1830,1010 H 1783 Q 1743,1010 1743,1050 V 1255 Q 1743,1305 1693,1305 H 1619" fill="none" stroke="url(#gRedL)" stroke-width="21"/>
<polygon points="1626,1270 1567,1305 1626,1340" fill="#df4f33" stroke="#1e242c" stroke-width="5" stroke-linejoin="round"/>
<rect x="1622" y="1295" width="8" height="20" fill="#df4f33"/>

<!-- bottom doc -->
<path d="M 1384,1192 H 1506 L 1554,1240 V 1404 Q 1554,1418 1540,1418 H 1384 Q 1370,1418 1370,1404 V 1206 Q 1370,1192 1384,1192 Z" fill="#eef2f8" stroke="#2c3845" stroke-width="5" stroke-linejoin="round"/>
<path d="M 1506,1192 V 1228 Q 1506,1240 1518,1240 H 1554 Z" fill="#c4ccd6" stroke="#2c3845" stroke-width="5" stroke-linejoin="round"/>
<rect x="1388" y="1207" width="69" height="68" fill="#a9b1bd"/>
<g stroke="#a0a9b5" stroke-width="7" stroke-linecap="round">
<line x1="1470" y1="1272" x2="1514" y2="1272"/>
<line x1="1390" y1="1292" x2="1497" y2="1292"/><line x1="1390" y1="1305" x2="1497" y2="1305"/><line x1="1390" y1="1319" x2="1497" y2="1319"/><line x1="1390" y1="1332" x2="1475" y2="1332"/>
<line x1="1432" y1="1353" x2="1470" y2="1353"/><line x1="1432" y1="1368" x2="1470" y2="1368"/><line x1="1432" y1="1382" x2="1470" y2="1382"/>
<line x1="1393" y1="1395" x2="1452" y2="1395"/>
</g>
<circle cx="1529" cy="1272" r="4" fill="#a0a9b5"/><circle cx="1465" cy="1395" r="4" fill="#a0a9b5"/>
<rect x="1485" y="1352" width="49" height="48" fill="#a9b1bd"/>
<g stroke="#d9553d" stroke-width="6" stroke-linecap="round">
<path d="M 1387,1208 L 1457,1277 M 1457,1208 L 1387,1277"/>
<path d="M 1388,1287 L 1457,1340 M 1457,1287 L 1388,1340"/>
<path d="M 1484,1350 L 1536,1402 M 1536,1350 L 1484,1402"/>
</g>
<g fill="#d9553d" font-weight="700" text-anchor="middle" dominant-baseline="central">
<text x="1478" y="1240" font-size="40">?</text>
<text x="1518" y="1310" font-size="40">?</text>
<text x="1404" y="1365" font-size="40">?</text>
</g>
<text class="t" x="1460" y="1460" font-size="42" textLength="449" lengthAdjust="spacingAndGlyphs">부정확하고 불완전한 요약</text>

<!-- conclusion -->
<rect x="1856" y="1302" width="908" height="181" rx="20" fill="#fbe2cd" stroke="#161616" stroke-width="6"/>
<text class="t" x="2308" y="1364" font-size="54" textLength="818" lengthAdjust="spacingAndGlyphs">결론: 단순 프롬프트 개선으로는 불가.</text>
<text class="t" x="2308" y="1431" font-size="54" textLength="849" lengthAdjust="spacingAndGlyphs">문제의 본질은 ‘작업의 복잡도’ 그 자체.</text>
<path d="M 2700,1383 Q 2706,1422 2745,1428 Q 2706,1434 2700,1473 Q 2694,1434 2655,1428 Q 2694,1422 2700,1383 Z" fill="#ffffff" opacity="0.7"/>
</svg>
</body></html>
